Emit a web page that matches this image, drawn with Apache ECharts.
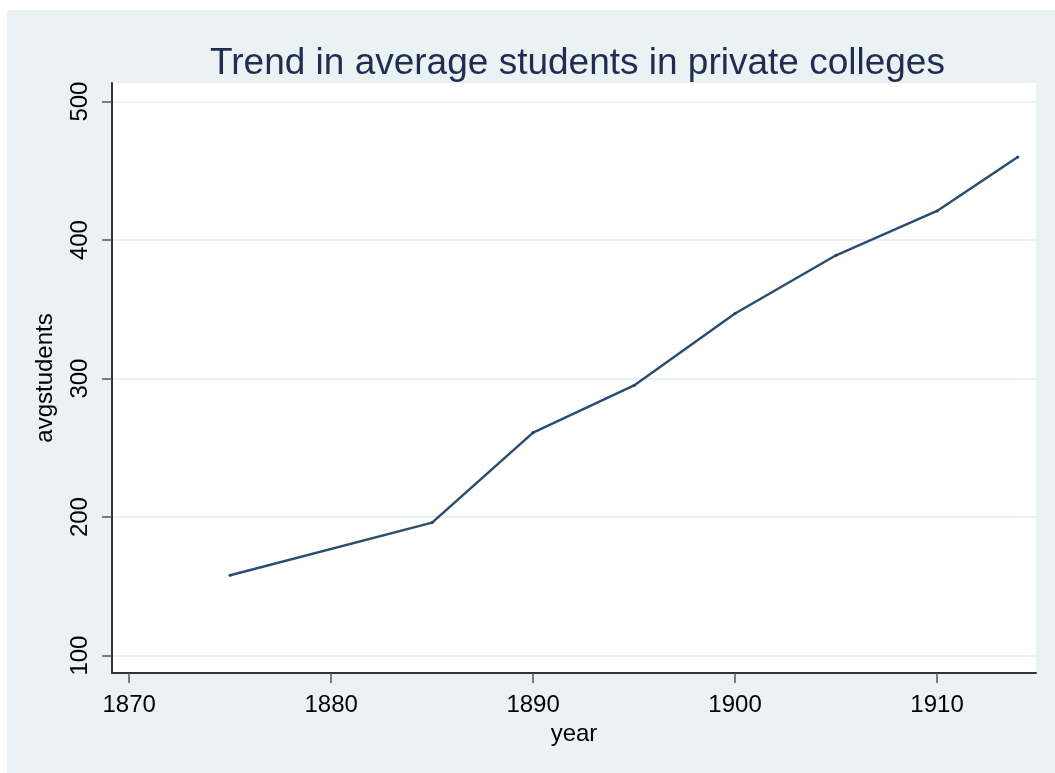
<!DOCTYPE html>
<html>
<head>
<meta charset="utf-8">
<script src="https://cdn.jsdelivr.net/npm/echarts@6/dist/echarts.min.js"></script>
<style>
html,body{margin:0;padding:0;background:#ffffff;}
#chart{width:1055px;height:773px;}
</style>
</head>
<body>
<div id="chart"></div>
<script>
const years = [1875, 1885, 1890, 1895, 1900, 1905, 1910, 1914];
const avgStudents = [158, 196, 261, 295, 347, 389, 421, 460];
const xTicks = [1870, 1880, 1890, 1900, 1910];
const yTicks = [100, 200, 300, 400, 500];

const chart = echarts.init(document.getElementById('chart'));
const font = 'Liberation Sans, Arial, Helvetica, sans-serif';
chart.setOption({
  backgroundColor: '#ffffff',
  animation: false,
  graphic: [{
    type: 'rect', z: -10, silent: true,
    shape: {x: 7, y: 10, width: 1048, height: 763},
    style: {fill: '#eaf2f3'}
  }],
  title: {
    text: 'Trend in average students in private colleges',
    left: 205, top: 40,
    textStyle: {fontFamily: font, fontSize: 37, fontWeight: 'normal', color: '#1f2d50', lineHeight: 37}
  },
  grid: {
    left: 112, right: 19, top: 83, bottom: 100,
    show: true, backgroundColor: '#ffffff', borderWidth: 0
  },
  xAxis: {
    type: 'value', min: 1869.15, max: 1914.9,
    name: 'year', nameLocation: 'middle', nameGap: 48,
    nameTextStyle: {fontFamily: font, fontSize: 24, color: '#000'},
    axisLine: {show: true, onZero: false, lineStyle: {color: '#333', width: 2}},
    axisTick: {show: true, length: 10, customValues: xTicks, lineStyle: {color: '#555', width: 1.5}},
    axisLabel: {customValues: xTicks, margin: 20, fontFamily: font, fontSize: 24, color: '#000',
      formatter: v => String(v)},
    splitLine: {show: false}
  },
  yAxis: {
    type: 'value', min: 87.4, max: 513.4,
    name: 'avgstudents', nameLocation: 'middle', nameGap: 55, nameRotate: 90,
    nameTextStyle: {fontFamily: font, fontSize: 24, color: '#000'},
    axisLine: {show: true, onZero: false, lineStyle: {color: '#333', width: 2}},
    axisTick: {show: true, length: 10, customValues: yTicks, lineStyle: {color: '#555', width: 1.5}},
    axisLabel: {customValues: yTicks, rotate: 90, margin: 20, fontFamily: font, fontSize: 24, color: '#000',
      formatter: v => String(v)},
    splitLine: {show: true, lineStyle: {color: '#eaf2f3', width: 2}}
  },
  series: [{
    type: 'line',
    data: years.map((y, i) => [y, avgStudents[i]]),
    symbol: 'circle', symbolSize: 3,
    lineStyle: {color: '#2a4e70', width: 2.5},
    itemStyle: {color: '#1a476f'}
  }]
});
</script>
</body>
</html>
